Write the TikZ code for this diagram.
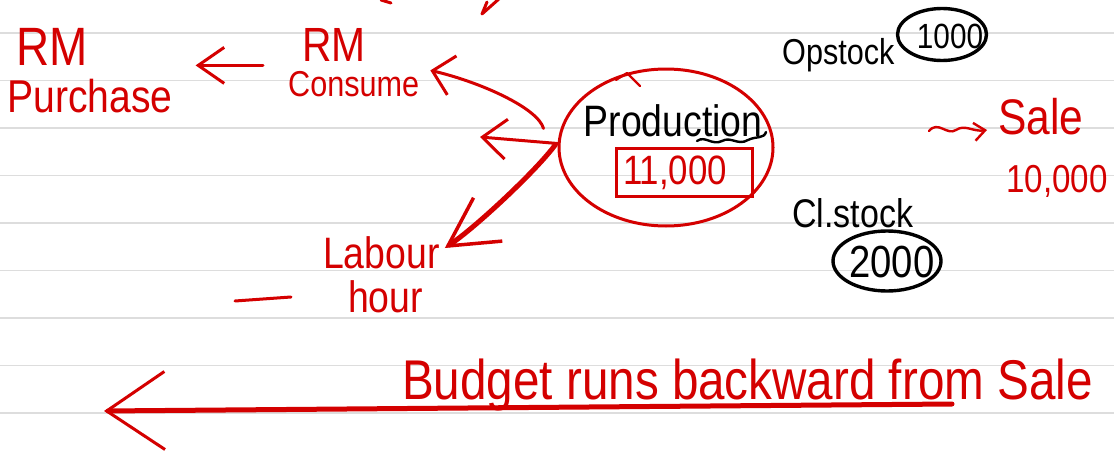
\documentclass[tikz,border=0pt]{standalone}
\usepackage{fontspec}
\setmainfont[FakeStretch=0.85]{Liberation Sans}
\usetikzlibrary{arrows.meta,shapes.geometric}
\definecolor{penred}{RGB}{212,0,0}
\definecolor{ruleline}{RGB}{221,221,221}
\newcommand{\pensize}[2]{\fontsize{#1}{#2}\selectfont}

\tikzset{
  redink/.style={draw=penred, line width=3pt, line cap=round, line join=round},
  blackink/.style={draw=black, line width=3.4pt, line cap=round},
  redword/.style={text=penred, inner sep=0pt},
  blackword/.style={text=black, inner sep=0pt},
  ring/.style={ellipse, draw=black, line width=3.4pt, inner sep=0pt},
}

\begin{document}
\begin{tikzpicture}[x=1pt, y=-1pt]
\fill[white] (0,0) rectangle (1114,455);
\useasboundingbox (0,0) rectangle (1114,455);

% ruled paper
\foreach \y in {33,80.5,...,413}
  \draw[ruleline, line width=1.8pt] (0,\y) -- (1114,\y);

% strokes running off the top edge
\draw[redink] (381,0) -- (391,3);
\draw[redink] (500,-2) -- (482,14) -- (487,2);

% raw material side
\node[redword, anchor=north west, align=left, font=\pensize{46}{47}] (rmbuy) at (7,28) {\hspace*{9pt}{\pensize{54}{47}RM}\\Purchase};
\node[redword, anchor=north west, align=left, font=\pensize{36}{35}] (rmuse) at (288,28) {\hspace*{14pt}{\pensize{48}{35}RM}\\Consume};
\node[redword, anchor=north west, align=left, font=\pensize{44}{44}] (labour) at (323,236) {Labour\\\hspace*{25pt}hour};
\draw[redink] (235,301) -- (291,297);

% production in the middle
\node[ellipse, draw=penred, line width=3pt, minimum width=214pt, minimum height=157pt, inner sep=0pt] (prod) at (666,147.5) {};
\draw[redink, line width=2.2pt] (616,80) -- (627,73) -- (640,86);
\node[blackword, anchor=base, font=\pensize{44}{44}] (prodname) at (673,136) {Production};
\draw[blackink, line width=2.4pt] (697,141) .. controls (705,135) and (712,146) .. (722,141) .. controls (731,136) and (738,146) .. (748,140) .. controls (756,136) and (764,139) .. (766,132);
\node[draw=penred, line width=3pt, minimum width=136pt, minimum height=48pt, inner sep=0pt] (unitbox) at (684,172) {};
\node[redword, font=\pensize{41}{41}] (units) at (675,173) {11,000};

% stock
\node[blackword, anchor=base west, font=\pensize{36}{36}] (opstock) at (782,64) {Opstock};
\node[ring, minimum width=89pt, minimum height=52pt] (opring) at (942,34.5) {};
\node[blackword, font=\pensize{35}{35}] (opqty) at (950,36) {1000};
\node[blackword, anchor=base west, font=\pensize{40}{40}] (clstock) at (792,227) {Cl.stock};
\node[ring, minimum width=108pt, minimum height=60pt] (clring) at (887,261) {};
\node[blackword, font=\pensize{45}{45}] (clqty) at (892,262) {2000};

% sales
\node[redword, anchor=base west, font=\pensize{50}{50}] (sale) at (998,134) {Sale};
\node[redword, anchor=base west, font=\pensize{39}{39}] (salequota) at (1006,192) {10,000};
\coordinate (saletail) at (929,131);
\draw[redink, line width=2.4pt, -{Straight Barb[length=11pt,width=18pt]}] (saletail) .. controls (938,120) and (947,136) .. (956,130) .. controls (965,124) and (973,132) .. ([shift={(-11pt,4pt)}]sale.base west);

% arrows out of production
\draw[redink, -{Straight Barb[length=26pt,width=36pt]}, shorten <=25pt, shorten >=23pt] ([yshift=-3pt]rmuse.west) -- ([yshift=-3pt]rmuse.west -| rmbuy.east);
\draw[redink, -{Straight Barb[length=20pt,width=40pt]}] ([shift={(-14pt,19pt)}]prod.west) .. controls (538,108) and (480,82) .. ([shift={(11pt,-8pt)}]rmuse.east);
\coordinate (spare) at (480,137);
\draw[redink, -{Straight Barb[length=24pt,width=40pt]}] ([yshift=4pt]prod.west) -- (spare);
\draw[redink, line width=5pt, -{Straight Barb[length=48pt,width=52pt,line width=3.5pt]}] ([shift={(-2pt,3pt)}]prod.west) .. controls (537,170) and (475,228) .. ([shift={(5pt,-12pt)}]labour.north east);

% backward arrow along the bottom
\node[redword, anchor=base west, font=\pensize{56}{56}] (motto) at (402,399) {Budget runs backward from Sale};
\coordinate (budgetfrom) at (952,404);
\coordinate (budgetto) at (104,411);
\draw[redink, line width=5pt, -{Straight Barb[length=58pt,width=78pt,line width=3pt]}] (budgetfrom) -- (budgetto);
\end{tikzpicture}
\end{document}
